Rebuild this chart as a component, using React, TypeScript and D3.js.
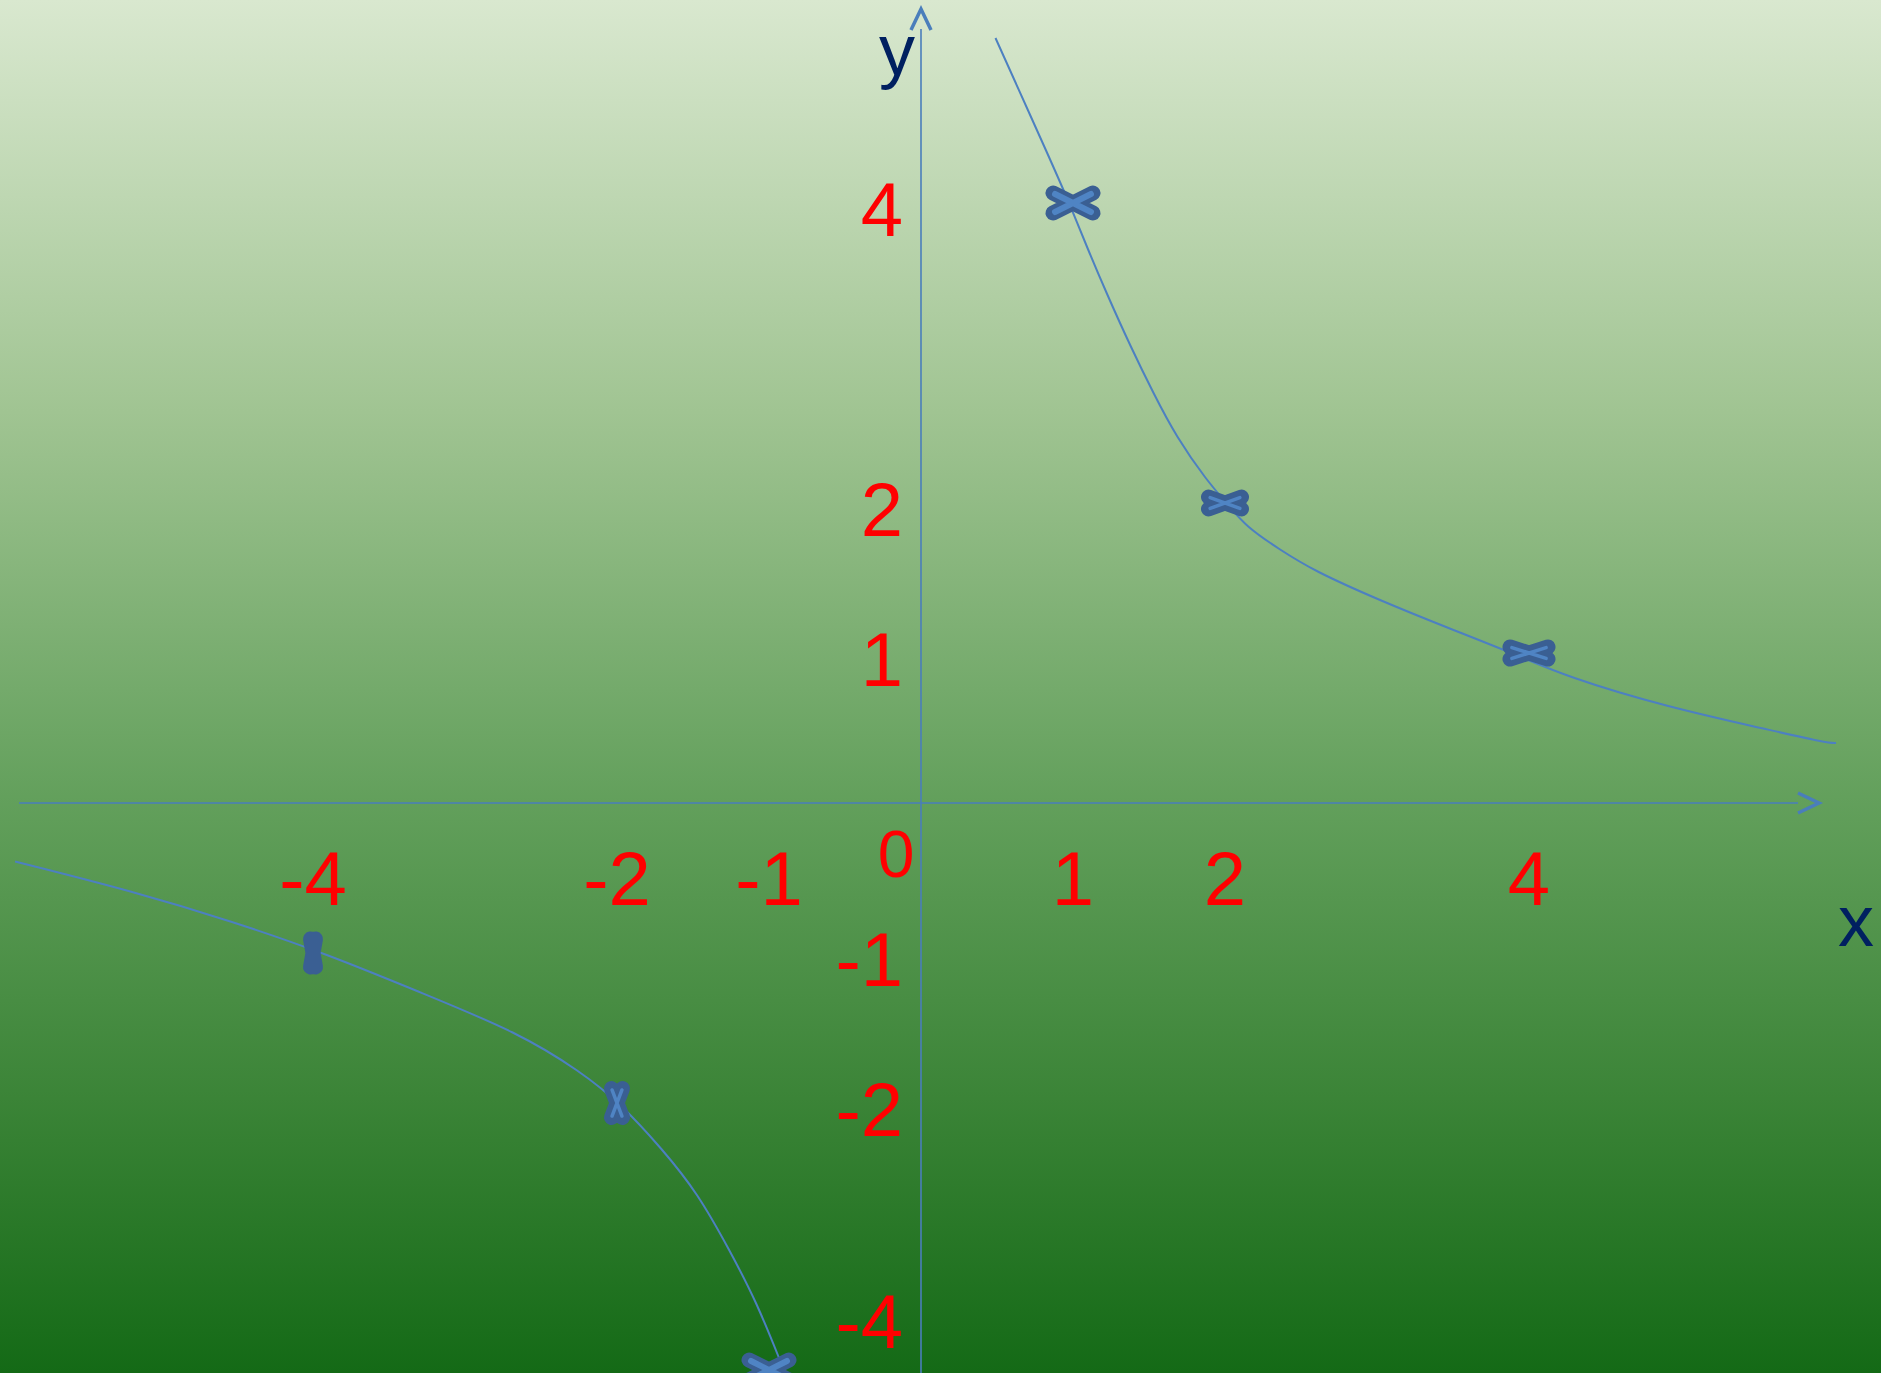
import * as d3 from 'd3'

const WIDTH = 1881
const HEIGHT = 1373
const ORIGIN_X = 921 // pixel position of x = 0
const ORIGIN_Y = 803 // pixel position of y = 0
const UNIT_X = 152
const UNIT_Y = 150

// points marked on the graph of y = 4 / x
const pointX = [1, 2, 4, -4, -2, -1]
const pointY = [4, 2, 1, -1, -2, -4]

// tick labels
const xTicks = [-4, -2, -1, 1, 2, 4]
const yTicks = [4, 2, 1, -1, -2, -4]

// hand drawn branches
const rightBranchX = [0.49, 0.85, 0.98, 1.09, 1.22, 1.38, 1.53, 1.68, 1.88, 2.01, 2.14, 2.36, 2.58, 3.02, 3.46, 3.89, 4.25, 4.91, 5.57, 5.96, 6.02]
const rightBranchY = [5.1, 4.29, 3.99, 3.71, 3.4, 3.04, 2.73, 2.44, 2.15, 2.0, 1.84, 1.69, 1.55, 1.35, 1.17, 1.0, 0.84, 0.64, 0.49, 0.4, 0.4]
const leftBranchX = [-5.96, -5.18, -4.53, -3.9, -3.3, -2.65, -2.24, -1.98, -1.7, -1.47, -1.26, -1.08, -0.91, -0.88]
const leftBranchY = [-0.39, -0.59, -0.79, -1.01, -1.26, -1.53, -1.79, -2.0, -2.31, -2.6, -2.98, -3.33, -3.76, -3.84]

// cross shapes (span of the two strokes), one per marked point
const markerShapes = [
  { w: 40, h: 20 },
  { w: 33, h: 12 },
  { w: 38, h: 12 },
  { w: 5, h: 28 },
  { w: 11, h: 29 },
  { w: 40, h: 20 },
]

const AXIS_COLOR = '#4a7ebb'
const CURVE_COLOR = '#4d80c1'
const MARK_DARK = '#3a5f93'
const MARK_LIGHT = '#4f84c4'
const LABEL_RED = '#ff0000'
const NAVY = '#002060'
const FONT = '"Liberation Sans", Arial, sans-serif'

const x = d3.scaleLinear().domain([-6, 6]).range([ORIGIN_X - 6 * UNIT_X, ORIGIN_X + 6 * UNIT_X])
const y = d3.scaleLinear().domain([-6, 6]).range([ORIGIN_Y + 6 * UNIT_Y, ORIGIN_Y - 6 * UNIT_Y])

const line = d3
  .line<[number, number]>()
  .x(d => x(d[0]))
  .y(d => y(d[1]))
  .curve(d3.curveBasis)

const zip = (a: number[], b: number[]) => a.map((v, i) => [v, b[i]] as [number, number])

export default function App() {
  const gradStops = [
    { o: 0, c: '#d9e8cf' },
    { o: 0.3, c: '#a0c492' },
    { o: 0.58, c: '#63a05c' },
    { o: 0.8, c: '#3b8437' },
    { o: 1, c: '#146a16' },
  ]

  const axisLeft = 19
  const xTip = 1819
  const yTip = 9

  return (
    <svg
      width={WIDTH}
      height={HEIGHT}
      style={{ position: 'absolute', left: 0, top: 0, display: 'block' }}
      fontFamily={FONT}
    >
      <defs>
        <linearGradient id="bg" x1="0" y1="0" x2="0" y2="1">
          {gradStops.map(s => (
            <stop key={s.o} offset={s.o} stopColor={s.c} />
          ))}
        </linearGradient>
      </defs>
      <rect width={WIDTH} height={HEIGHT} fill="url(#bg)" />

      {/* axes */}
      <line x1={axisLeft} x2={xTip - 21} y1={ORIGIN_Y} y2={ORIGIN_Y} stroke={AXIS_COLOR} strokeWidth={1.6} />
      <path
        d={`M${xTip - 21},${ORIGIN_Y - 10} L${xTip},${ORIGIN_Y} L${xTip - 21},${ORIGIN_Y + 10}`}
        fill="none"
        stroke={AXIS_COLOR}
        strokeWidth={3.5}
      />
      <line x1={ORIGIN_X} x2={ORIGIN_X} y1={HEIGHT} y2={yTip + 20} stroke={AXIS_COLOR} strokeWidth={1.6} />
      <path
        d={`M${ORIGIN_X - 10},${yTip + 21} L${ORIGIN_X},${yTip} L${ORIGIN_X + 10},${yTip + 21}`}
        fill="none"
        stroke={AXIS_COLOR}
        strokeWidth={3.5}
      />

      {/* branches */}
      <path d={line(zip(rightBranchX, rightBranchY)) ?? ''} fill="none" stroke={CURVE_COLOR} strokeWidth={2} />
      <path d={line(zip(leftBranchX, leftBranchY)) ?? ''} fill="none" stroke={CURVE_COLOR} strokeWidth={2} />

      {/* crosses */}
      {pointX.map((px, i) => {
        const cx = x(px)
        const cy = Math.min(y(pointY[i]), HEIGHT - 3)
        const { w, h } = markerShapes[i]
        const cross = (k: number) =>
          `M${(-w / 2) * k},${(-h / 2) * k} L${(w / 2) * k},${(h / 2) * k} M${(-w / 2) * k},${(h / 2) * k} L${(w / 2) * k},${(-h / 2) * k}`
        return (
          <g key={i} transform={`translate(${cx},${cy})`}>
            <path d={cross(1)} stroke={MARK_DARK} strokeWidth={15} strokeLinecap="round" strokeLinejoin="round" fill="none" />
            {w > 10 && (
              <path d={cross(0.9)} stroke={MARK_LIGHT} strokeWidth={w > 39 ? 6 : 3.5} strokeLinecap="round" fill="none" />
            )}
          </g>
        )
      })}

      {/* tick labels */}
      {xTicks.map(t => (
        <text key={`x${t}`} x={x(t)} y={ORIGIN_Y + 102} textAnchor="middle" fontSize={76} fill={LABEL_RED}>
          {t}
        </text>
      ))}
      {yTicks.map(t => (
        <text
          key={`y${t}`}
          x={ORIGIN_X - 18}
          y={Math.min(y(t) + 33, HEIGHT - 25)}
          textAnchor="end"
          fontSize={76}
          fill={LABEL_RED}
        >
          {t}
        </text>
      ))}
      <text x={ORIGIN_X - 25} y={ORIGIN_Y + 74} textAnchor="middle" fontSize={66} fill={LABEL_RED}>
        0
      </text>

      {/* axis names */}
      <text x={ORIGIN_X - 6} y={yTip + 66} textAnchor="end" fontSize={72} fill={NAVY}>
        y
      </text>
      <text x={1856} y={946} textAnchor="middle" fontSize={72} fill={NAVY}>
        x
      </text>
    </svg>
  )
}
